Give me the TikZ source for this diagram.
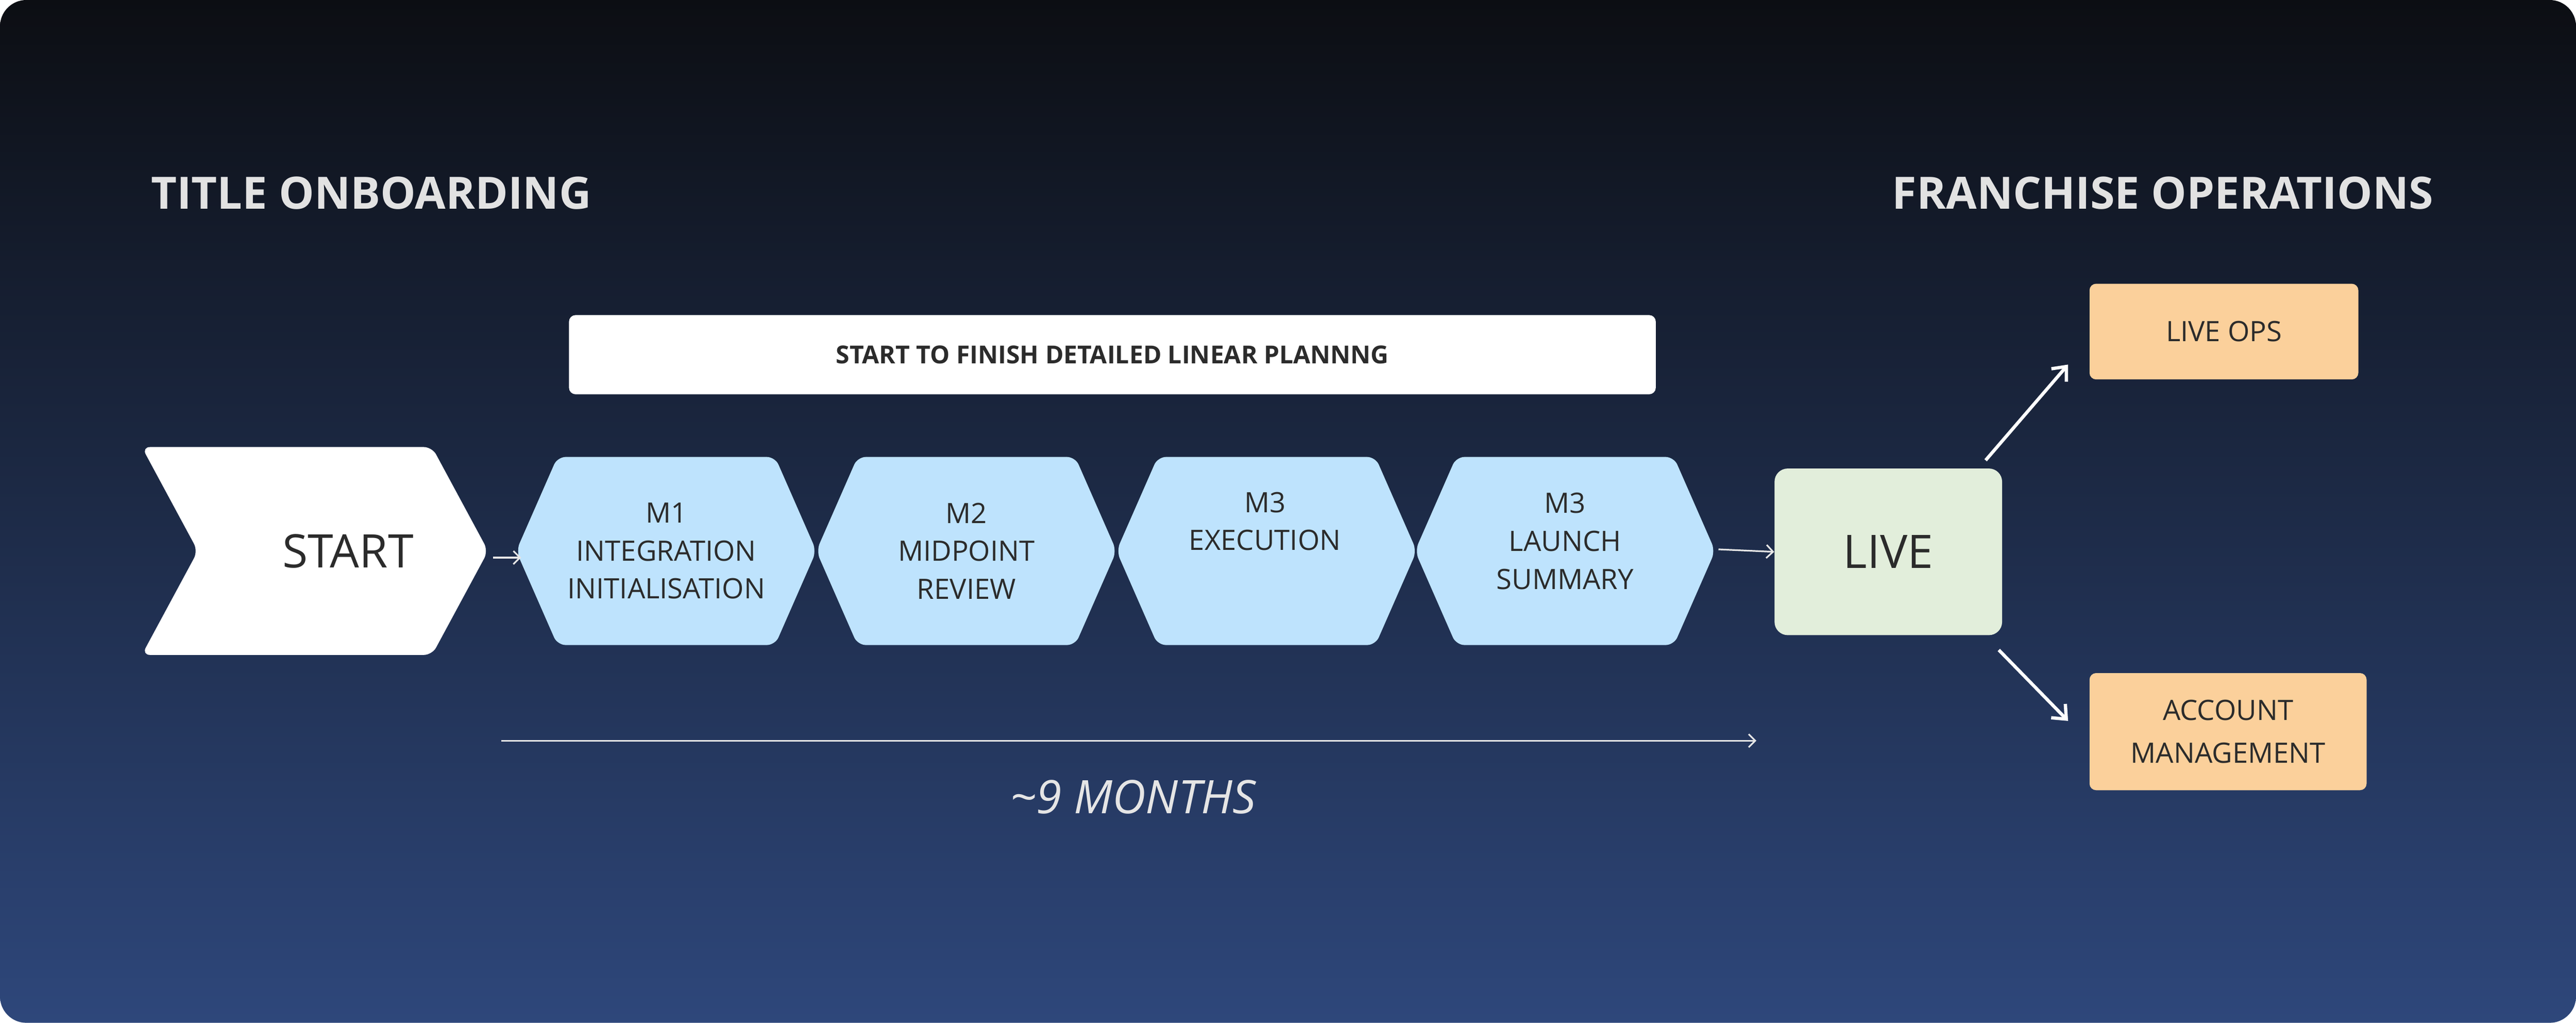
\documentclass[tikz,border=0pt]{standalone}
\usepackage{fontspec}
\setmainfont{Open Sans}
\usetikzlibrary{arrows.meta}
\definecolor{bgtop}{HTML}{0C0E13}
\definecolor{bgbot}{HTML}{2E477B}
\definecolor{hex}{HTML}{BEE3FD}
\definecolor{livec}{HTML}{E2EEDB}
\definecolor{orng}{HTML}{FBD09B}
\definecolor{ink}{HTML}{2B2B2B}
\definecolor{ttl}{HTML}{E2E2E2}
\begin{document}
\begin{tikzpicture}[x=1pt,y=-1pt,
  lbl/.style={font=\fontsize{17}{23}\selectfont,text=ink,align=center},
  big/.style={font=\fontsize{28}{32}\selectfont,text=ink},
  ttlst/.style={font=\bfseries\fontsize{27}{30}\selectfont,text=ttl},
  wa/.style={draw=white,line width=2pt,-{Straight Barb[length=7pt,width=12pt]}},
  ga/.style={draw=ttl!85,line width=1pt,-{Straight Barb[length=4pt,width=8pt]}}]
\useasboundingbox (0,0) rectangle (1562,620);
\fill[white] (0,0) rectangle (1562,620);
\shade[top color=bgtop,bottom color=bgbot,rounded corners=16pt] (0,0) rectangle (1562,620);
% titles
\node[ttlst,anchor=west] (t1) at (88,117) {TITLE ONBOARDING};
\node[ttlst,anchor=east] (t2) at (1479,117) {FRANCHISE OPERATIONS};
% banner
\fill[white,rounded corners=4pt] (345,191) rectangle (1004,239);
\node[font=\bfseries\fontsize{15}{18}\selectfont,text=ink] (ban) at (674.5,215) {START TO FINISH DETAILED LINEAR PLANNNG};
% start chevron
\fill[white,rounded corners=5pt] (86,271) -- (262,271) -- (296,334) -- (262,397) -- (86,397) -- (120,334) -- cycle;
\node[big] (start) at (211,334) {START};
% hexagons
\foreach \xa/\nm in {313/h1,495/h2,677/h3,858/h4}{
  \fill[hex,rounded corners=5pt] (\xa,334) -- (\xa+25,277) -- (\xa+157,277) -- (\xa+182,334) -- (\xa+157,391) -- (\xa+25,391) -- cycle;
  \coordinate (\nm) at (\xa+91,334);
}
\node[lbl] at (404,334) {M1\\INTEGRATION\\INITIALISATION};
\node[lbl] at (586,334) {M2\\MIDPOINT\\REVIEW};
\node[lbl] at (767,316) {M3\\EXECUTION};
\node[lbl] at (949,328) {M3\\LAUNCH\\SUMMARY};
\coordinate (h1w) at (316,338);
\coordinate (h4e) at (1073,333);
\coordinate (h4o) at (1042,333);
\coordinate (sto) at (299,338);
% live
\node[fill=livec,rounded corners=8pt,minimum width=138pt,minimum height=101pt,big] (live) at (1145,334.5) {LIVE};
\node[fill=orng,rounded corners=4pt,minimum width=163pt,minimum height=58pt,lbl] (ops) at (1348.5,201) {LIVE OPS};
\node[fill=orng,rounded corners=4pt,minimum width=168pt,minimum height=71pt,lbl,font=\fontsize{17}{26}\selectfont] (acc) at (1351,443.5) {ACCOUNT\\MANAGEMENT};
\draw[ga] (sto) -- (h1w);
\draw[ga] (h4o) -- (live.west);
\coordinate (a1) at (1204,279); \coordinate (a1e) at (1254,221);
\coordinate (a2) at (1212,394); \coordinate (a2e) at (1254,437);
\draw[wa] (a1) -- (a1e);
\draw[wa] (a2) -- (a2e);
% timeline
\coordinate (tl1) at (304,449); \coordinate (tl2) at (1065,449);
\draw[ga] (tl1) -- (tl2);
\node[font=\itshape\fontsize{28}{32}\selectfont,text=ttl!90] (dur) at (687,483) {\textasciitilde 9 MONTHS};
\end{tikzpicture}
\end{document}
